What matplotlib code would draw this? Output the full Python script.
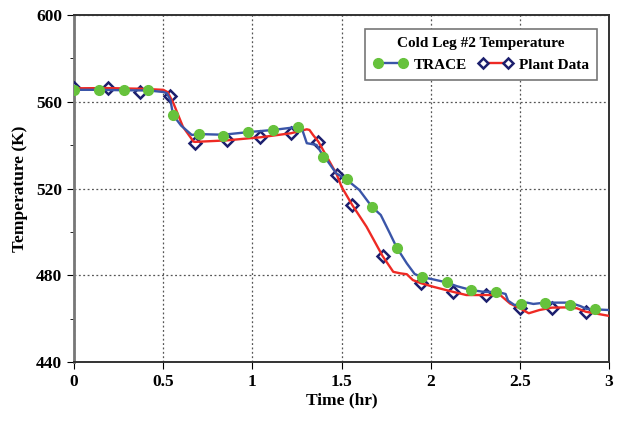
import matplotlib
matplotlib.use("Agg")
import matplotlib.pyplot as plt
from matplotlib.lines import Line2D
from matplotlib.ticker import MultipleLocator

plt.rcParams['font.family'] = ['Liberation Serif', 'DejaVu Serif']
plt.rcParams['font.weight'] = 'bold'

# TRACE curve
t_trace = [0, 0.14, 0.28, 0.415, 0.5, 0.52, 0.54, 0.555, 0.6, 0.66, 0.70, 0.836, 0.976,
           1.116, 1.256, 1.28, 1.305, 1.36, 1.397, 1.41, 1.47, 1.53, 1.60, 1.67, 1.72,
           1.77, 1.81, 1.866, 1.91, 1.95, 2.015, 2.09, 2.146, 2.227, 2.296, 2.367, 2.39,
           2.42, 2.434, 2.47, 2.505, 2.54, 2.576, 2.64, 2.78, 2.84, 2.875, 2.92, 3.0]
y_trace = [565.5, 565.5, 565.3, 565.2, 564.5, 563.9, 560.8, 553.9, 549, 544.7, 545.1, 544.8, 546,
           547, 548.4, 547, 540.9, 540.1, 535, 534, 527, 524, 519.3, 511.6, 507.8,
           499.5, 492.7, 485.5, 480.6, 479.2, 478.1, 476.7, 475, 473.2, 472.4, 472.3, 472,
           471.4, 468.3, 466.3, 466.8, 467.4, 466.8, 467.4, 467.4, 465.8, 464.5, 464.3, 464]

# TRACE markers
t_trace_m = [0, 0.14, 0.28, 0.415, 0.555, 0.70, 0.836, 0.976, 1.116, 1.256, 1.397, 1.53,
             1.67, 1.81, 1.95, 2.09, 2.227, 2.367, 2.505, 2.64, 2.78, 2.92]
y_trace_m = [565.2, 565.3, 565.2, 565.2, 553.9, 545.1, 544.2, 546, 547, 548.4, 534.6, 524.2,
             511.6, 492.7, 479.2, 476.7, 473.2, 472.4, 466.8, 467.4, 466.4, 464.3]

# Plant data curve
t_plant = [0, 0.19, 0.37, 0.5, 0.525, 0.557, 0.61, 0.67, 0.68, 0.856, 1.0, 1.043, 1.217,
           1.305, 1.32, 1.34, 1.37, 1.417, 1.473, 1.50, 1.56, 1.64, 1.73, 1.79, 1.83,
           1.866, 1.90, 1.944, 2.015, 2.124, 2.2, 2.31, 2.39, 2.445, 2.50, 2.55, 2.61,
           2.68, 2.76, 2.82, 2.87, 3.0]
y_plant = [566.2, 566.3, 566, 565.5, 564.4, 559.3, 548.5, 541.6, 541.5, 542.2, 543.3, 543.6, 545.5,
           547.3, 547, 544.7, 541.6, 534.7, 526.5, 520.8, 512.4, 502.4, 488.9, 481.6, 480.9,
           480.5, 477.8, 476.4, 474.7, 472.4, 470.9, 470.9, 470.9, 467, 464.8, 462.5, 464,
           465.1, 465.2, 464.8, 463.2, 461.3]

# Plant data markers
t_plant_m = [0, 0.19, 0.37, 0.535, 0.68, 0.856, 1.043, 1.217, 1.37, 1.473, 1.56, 1.73,
             1.944, 2.124, 2.31, 2.50, 2.68, 2.87]
y_plant_m = [566.2, 566.5, 564.4, 562.5, 540.8, 542.4, 543.6, 545.7, 541.6, 526.4, 512.4, 488.9,
             476.5, 472.4, 470.9, 464.8, 465.1, 463.2]

blue = '#3a55a8'
red = '#ee2a24'
green = '#66c23c'
navy = '#1c1f6e'

fig = plt.figure(figsize=(6.23, 4.22), dpi=100)
ax = fig.add_axes([0.119, 0.142, 0.8585, 0.8225])

ax.plot(t_plant_m, y_plant_m, ls='none', marker='D', ms=6, mfc='white', mec=navy, mew=1.8, zorder=3)
ax.plot(t_plant, y_plant, color=red, lw=1.7, zorder=4)
ax.plot(t_trace, y_trace, color=blue, lw=1.7, zorder=5)
ax.plot(t_trace_m, y_trace_m, ls='none', marker='o', ms=7, color=green, zorder=6)

ax.set_xlim(0, 3)
ax.set_ylim(440, 600)
ax.yaxis.set_major_locator(MultipleLocator(40))
ax.yaxis.set_minor_locator(MultipleLocator(20))
ax.set_xticks([0, 0.5, 1, 1.5, 2, 2.5, 3])
ax.set_xticklabels(['0', '0.5', '1', '1.5', '2', '2.5', '3'])
ax.grid(True, which='major', ls=(0, (1.5, 2)), color='#555555', lw=0.9)
ax.tick_params(which='both', direction='out', labelsize=12.5)
ax.tick_params(which='major', length=5)
ax.tick_params(which='minor', length=3)
for s in ax.spines.values():
    s.set_linewidth(1.4)
    s.set_color('#333333')
ax.spines['left'].set_color('#777777')
ax.spines['left'].set_linewidth(2)

ax.set_xlabel('Time (hr)', fontsize=12.5, fontweight='bold', labelpad=2)
ax.set_ylabel('Temperature (K)', fontsize=12.5, fontweight='bold', labelpad=6)

h_trace = Line2D([], [], color=blue, lw=1.7, marker='o', ms=7, mfc=green, mec=green)
h_plant = Line2D([], [], color=red, lw=1.7, marker='D', ms=5, mfc='white', mec=navy, mew=1.8)
leg = ax.legend([h_trace, h_plant], ['TRACE', 'Plant Data'], title='Cold Leg #2 Temperature',
                ncol=2, loc='upper right', bbox_to_anchor=(0.9776, 0.96), borderaxespad=0,
                fancybox=False, framealpha=1, edgecolor='#777777', numpoints=2,
                handlelength=2.2, handletextpad=0.4, columnspacing=0.8,
                prop={'size': 11, 'weight': 'bold'}, borderpad=0.55)
leg.get_title().set_fontweight('bold')
leg.get_title().set_fontsize(11)
leg.get_frame().set_linewidth(1.2)

fig.savefig('out.png', dpi=100)
